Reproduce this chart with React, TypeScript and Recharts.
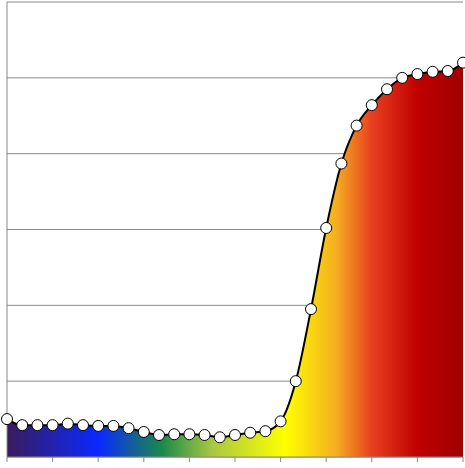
import { Area, AreaChart, CartesianGrid, XAxis, YAxis } from "recharts";

const xs = Array.from({ length: 31 }, (_, i) => i);
const values = [
  0.5, 0.42, 0.42, 0.42, 0.44, 0.42, 0.41, 0.41, 0.38, 0.33, 0.29, 0.3, 0.3,
  0.29, 0.26, 0.29, 0.32, 0.34, 0.47, 1.0, 1.95, 3.02, 3.87, 4.37, 4.64, 4.85,
  5.0, 5.05, 5.08, 5.09, 5.2,
];
const xTicks = [0, 3, 6, 9, 12, 15, 18, 21, 24, 27, 30];
const yTicks = [0, 1, 2, 3, 4, 5, 6];
const stops: [string, string][] = [
  ["0%", "#3a1c5c"],
  ["20%", "#0a28ff"],
  ["34%", "#1a8a4a"],
  ["45%", "#a8c840"],
  ["61%", "#ffff00"],
  ["72%", "#f5b020"],
  ["80%", "#e84020"],
  ["90%", "#c00000"],
  ["100%", "#a00000"],
];

const data = xs.map((x, i) => ({ x, y: values[i] }));

export default function App() {
  return (
    <div style={{ position: "absolute", left: 0, top: 0 }}>
      <AreaChart
        width={465}
        height={468}
        data={data}
        margin={{ top: 2, right: 2, left: 0, bottom: 0 }}
      >
        <defs>
          <linearGradient id="rainbow" x1="0" y1="0" x2="1" y2="0">
            {stops.map(([o, c]) => (
              <stop key={o} offset={o} stopColor={c} />
            ))}
          </linearGradient>
        </defs>
        <CartesianGrid vertical={false} stroke="#888" />
        <XAxis
          dataKey="x"
          type="number"
          domain={[0, 30]}
          ticks={xTicks}
          tickFormatter={() => ""}
          tickSize={5}
          height={11}
          stroke="#888"
        />
        <YAxis
          domain={[0, 6]}
          ticks={yTicks}
          tickFormatter={() => ""}
          tickLine={false}
          tickSize={0}
          width={7}
          stroke="#888"
        />
        <Area
          type="monotone"
          dataKey="y"
          stroke="#000"
          strokeWidth={2}
          fill="url(#rainbow)"
          fillOpacity={1}
          dot={{ r: 5.5, fill: "#fff", stroke: "#000", strokeWidth: 1, fillOpacity: 1 }}
          isAnimationActive={false}
        />
      </AreaChart>
    </div>
  );
}
